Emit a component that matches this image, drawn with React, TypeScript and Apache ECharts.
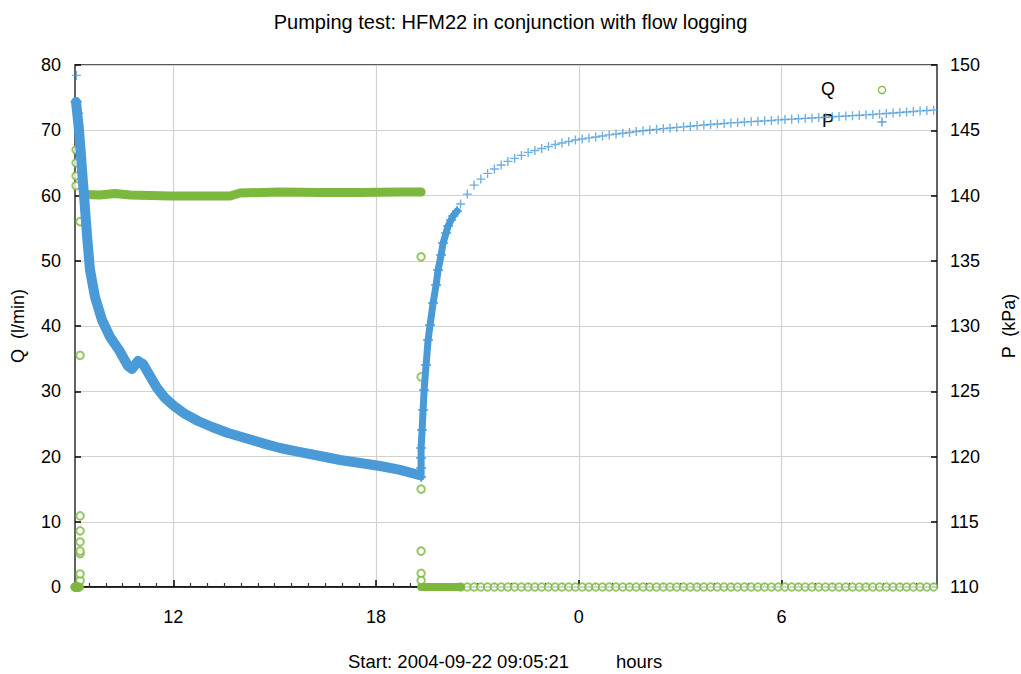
import React, { useEffect, useRef } from "react";
import * as echarts from "echarts";

const FONT = '"Liberation Sans", Arial, Helvetica, sans-serif';
const BLUE = "#4a9ad8";
const GREEN = "#7cb83e";

// Time axis in clock hours (values beyond 24 are the next day)
const AXIS_MIN = 9.089; // 2004-09-22 09:05:21
const AXIS_MAX = 34.6;
const majorTicks = [12, 18, 24, 30];

// ---- P (kPa), right axis ----
const pStartTime = [9.089, 9.1, 9.11, 9.12, 9.14, 9.16, 9.13, 9.2, 9.2, 9.2];
const pStartValue = [147.2, 147.2, 147.15, 147.2, 147.2, 147.2, 149.2, 146.3, 145.8, 145.4];

const pDrawdownTime = [
  9.119, 9.207, 9.267, 9.296, 9.355, 9.444, 9.533, 9.681, 9.888, 10.125, 10.392,
  10.658, 10.776, 10.954, 11.102, 11.309, 11.516, 11.753, 12.02, 12.345, 12.73,
  13.145, 13.618, 14.122, 14.625, 15.158, 15.75, 16.342, 16.934, 17.526, 18.118,
  18.71, 19.273,
];
const pDrawdownValue = [
  147.16, 145.02, 143.1, 141.95, 140.04, 136.97, 134.29, 132.22, 130.46, 129.16,
  128.16, 126.93, 126.7, 127.32, 127.09, 126.17, 125.25, 124.48, 123.87, 123.26,
  122.72, 122.26, 121.8, 121.42, 121.03, 120.65, 120.34, 120.04, 119.73, 119.5,
  119.27, 118.97, 118.58,
];

const pRecDenseTime = [
  19.332, 19.332, 19.332, 19.332, 19.361, 19.391, 19.421, 19.48, 19.539, 19.598,
  19.687, 19.776, 19.835, 19.924, 19.983, 20.072, 20.131, 20.22, 20.279, 20.397,
];
const pRecDenseValue = [
  118.43, 119.12, 119.89, 120.65, 122.03, 123.56, 125.1, 127.01, 128.93, 130.08,
  131.76, 133.14, 134.29, 135.44, 136.36, 137.13, 137.66, 138.12, 138.43, 138.81,
];

const recoveryTime = [
  20.5, 20.7, 20.9, 21.1, 21.3, 21.5, 21.7, 21.9, 22.1, 22.3, 22.5, 22.7, 22.9,
  23.1, 23.3, 23.5, 23.7, 23.9, 24.1, 24.3, 24.5, 24.7, 24.9, 25.1, 25.3, 25.5,
  25.7, 25.9, 26.1, 26.3, 26.5, 26.7, 26.9, 27.1, 27.3, 27.5, 27.7, 27.9, 28.1,
  28.3, 28.5, 28.7, 28.9, 29.1, 29.3, 29.5, 29.7, 29.9, 30.1, 30.3, 30.5, 30.7,
  30.9, 31.1, 31.3, 31.5, 31.7, 31.9, 32.1, 32.3, 32.5, 32.7, 32.9, 33.1, 33.3,
  33.5, 33.7, 33.9, 34.1, 34.3, 34.5,
];
const pRecovery = [
  139.35, 140.11, 140.8, 141.26, 141.69, 142.03, 142.34, 142.61, 142.84, 143.07,
  143.3, 143.45, 143.6, 143.75, 143.91, 144.02, 144.14, 144.25, 144.33, 144.41,
  144.48, 144.56, 144.64, 144.71, 144.77, 144.83, 144.9, 144.96, 145.02, 145.07,
  145.13, 145.17, 145.22, 145.26, 145.31, 145.36, 145.4, 145.44, 145.48, 145.52,
  145.56, 145.59, 145.63, 145.66, 145.69, 145.72, 145.75, 145.79, 145.82, 145.85,
  145.88, 145.91, 145.94, 145.97, 146.0, 146.03, 146.06, 146.09, 146.12, 146.15,
  146.18, 146.21, 146.25, 146.28, 146.32, 146.36, 146.4, 146.44, 146.48, 146.51,
  146.54,
];

// ---- Q (l/min), left axis ----
const qStartTime = [
  9.089, 9.11, 9.13, 9.16, 9.19, 9.22, 9.24, 9.24, 9.24, 9.24, 9.24, 9.24, 9.24,
  9.24, 9.24, 9.12, 9.12, 9.12, 9.12,
];
const qStartValue = [
  0, 0, 0, 0, 0, 0, 1.0, 2.0, 5.1, 5.5, 6.9, 8.6, 10.9, 35.5, 56.0, 61.5, 63.0,
  65.0, 67.0,
];

const qPumpTime = [
  9.355, 9.829, 10.273, 10.717, 11.901, 12.789, 13.677, 13.974, 15.158, 16.342,
  17.526, 18.71, 19.332,
];
const qPumpValue = [
  60.15, 60.08, 60.3, 60.08, 59.92, 59.92, 59.92, 60.38, 60.54, 60.46, 60.46,
  60.54, 60.54,
];

const qStopTime = [19.332, 19.332, 19.332, 19.332, 19.332, 19.332];
const qStopValue = [50.6, 32.2, 15.0, 5.5, 2.1, 1.0];

const qZeroDenseTime = [19.332, 20.516];
const qZeroDenseValue = [0, 0];

const qRecovery = [
  0, 0, 0, 0, 0, 0, 0, 0, 0, 0, 0, 0, 0, 0, 0, 0, 0, 0, 0, 0, 0, 0, 0, 0, 0, 0,
  0, 0, 0, 0, 0, 0, 0, 0, 0, 0, 0, 0, 0, 0, 0, 0, 0, 0, 0, 0, 0, 0, 0, 0, 0, 0,
  0, 0, 0, 0, 0, 0, 0, 0, 0, 0, 0, 0, 0, 0, 0, 0, 0, 0, 0,
];

const pairs = (xs: number[], ys: number[]) => xs.map((x, i) => [x, ys[i]]);

const PLUS = "path://M3.4,0H4.6V3.4H8V4.6H4.6V8H3.4V4.6H0V3.4H3.4Z";

export default function App() {
  const ref = useRef<HTMLDivElement>(null);

  useEffect(() => {
    if (!ref.current) return;
    const chart = echarts.init(ref.current, undefined, { renderer: "svg" });

    const minorTicks: number[] = [];
    for (let h = 9.5; h < AXIS_MAX; h += 0.5) {
      if (majorTicks.indexOf(h) < 0) minorTicks.push(h);
    }

    const labelStyle = { fontFamily: FONT, fontSize: 18, color: "#000" };

    const option: any = {
      animation: false,
      backgroundColor: "#fff",
      title: {
        text: "Pumping test: HFM22 in conjunction with flow logging",
        left: "center",
        top: 7,
        textStyle: { fontFamily: FONT, fontSize: 20, fontWeight: "normal", color: "#000" },
      },
      grid: {
        left: 75,
        right: 84,
        top: 65,
        bottom: 87,
        show: true,
        borderColor: "#222",
        borderWidth: 1.5,
        backgroundColor: "transparent",
        containLabel: false,
        outerBoundsMode: "none",
      },
      xAxis: [
        {
          type: "value",
          min: AXIS_MIN,
          max: AXIS_MAX,
          position: "bottom",
          axisLine: { show: true, onZero: false, lineStyle: { color: "#000", width: 1.5 } },
          axisTick: {
            show: true,
            inside: true,
            length: 7,
            customValues: majorTicks,
            lineStyle: { color: "#000", width: 1.5 },
          },
          axisLabel: {
            customValues: majorTicks,
            formatter: (v: number) => String(Math.round(v) % 24),
            margin: 21,
            ...labelStyle,
          },
          splitLine: { show: true, lineStyle: { color: "#d2d2d2", width: 1.2 } },
        },
        {
          type: "value",
          min: AXIS_MIN,
          max: AXIS_MAX,
          position: "bottom",
          axisLine: { show: false, onZero: false },
          axisTick: {
            show: true,
            inside: true,
            length: 4,
            customValues: minorTicks,
            lineStyle: { color: "#333", width: 1.2 },
          },
          axisLabel: { show: false },
          splitLine: { show: false },
        },
      ],
      yAxis: [
        {
          type: "value",
          min: 0,
          max: 80,
          interval: 10,
          position: "left",
          name: "Q  (l/min)",
          nameLocation: "middle",
          nameGap: 48,
          nameTextStyle: { ...labelStyle },
          axisLine: { show: true, lineStyle: { color: "#666", width: 1.5 } },
          axisTick: { show: true, inside: true, length: 6, lineStyle: { color: "#000", width: 1.5 } },
          axisLabel: { margin: 14, ...labelStyle },
          splitLine: { show: true, lineStyle: { color: "#d2d2d2", width: 1.2 } },
        },
        {
          type: "value",
          min: 110,
          max: 150,
          interval: 5,
          position: "right",
          name: "P  (kPa)",
          nameLocation: "middle",
          nameGap: 63,
          nameTextStyle: { ...labelStyle },
          axisLine: { show: true, lineStyle: { color: "#666", width: 1.5 } },
          axisTick: { show: true, inside: true, length: 6, lineStyle: { color: "#000", width: 1.5 } },
          axisLabel: { margin: 13, ...labelStyle },
          splitLine: { show: false },
        },
      ],
      series: [
        {
          name: "Q",
          type: "line",
          data: pairs(qPumpTime, qPumpValue),
          showSymbol: false,
          lineStyle: { color: GREEN, width: 9, cap: "round", join: "round" },
          itemStyle: { color: GREEN },
          clip: false,
        },
        {
          name: "Q",
          type: "line",
          data: pairs(qZeroDenseTime, qZeroDenseValue),
          showSymbol: false,
          lineStyle: { color: GREEN, width: 8, cap: "round" },
          itemStyle: { color: GREEN },
          clip: false,
        },
        {
          name: "Q",
          type: "scatter",
          data: pairs(qStartTime, qStartValue)
            .concat(pairs(qStopTime, qStopValue))
            .concat(pairs(recoveryTime, qRecovery)),
          symbol: "emptyCircle",
          symbolSize: 7.5,
          itemStyle: { color: GREEN, borderColor: GREEN, borderWidth: 1.2 },
          clip: false,
        },
        {
          name: "Q",
          type: "scatter",
          data: pairs([9.089, 9.13, 9.17, 9.2], [0, 0, 0, 0]),
          symbol: "circle",
          symbolSize: 9,
          itemStyle: { color: GREEN },
          clip: false,
        },
        {
          name: "P",
          type: "line",
          yAxisIndex: 1,
          data: pairs(pDrawdownTime, pDrawdownValue),
          showSymbol: false,
          lineStyle: { color: BLUE, width: 10, cap: "round", join: "round" },
          itemStyle: { color: BLUE },
        },
        {
          name: "P",
          type: "line",
          yAxisIndex: 1,
          data: pairs(pRecDenseTime, pRecDenseValue),
          showSymbol: true,
          symbol: PLUS,
          symbolSize: 10,
          lineStyle: { color: BLUE, width: 7, cap: "round", join: "round" },
          itemStyle: { color: BLUE },
        },
        {
          name: "P",
          type: "scatter",
          yAxisIndex: 1,
          data: pairs(pStartTime, pStartValue).concat(pairs(recoveryTime, pRecovery)),
          symbol: PLUS,
          symbolSize: 9,
          itemStyle: { color: BLUE },
          clip: false,
        },
      ],
      graphic: [
        {
          type: "text",
          left: 821,
          top: 80,
          style: { text: "Q", fontFamily: FONT, fontSize: 18, fill: "#000" },
        },
        {
          type: "circle",
          shape: { cx: 882, cy: 90, r: 3.6 },
          style: { fill: "none", stroke: GREEN, lineWidth: 1.2 },
        },
        {
          type: "text",
          left: 822,
          top: 112,
          style: { text: "P", fontFamily: FONT, fontSize: 18, fill: "#000" },
        },
        {
          type: "line",
          shape: { x1: 877.5, y1: 122, x2: 886.5, y2: 122 },
          style: { stroke: BLUE, lineWidth: 1.3 },
        },
        {
          type: "line",
          shape: { x1: 882, y1: 117.5, x2: 882, y2: 126.5 },
          style: { stroke: BLUE, lineWidth: 1.3 },
        },
        {
          type: "text",
          left: 348,
          top: 652,
          style: { text: "Start: 2004-09-22 09:05:21", fontFamily: FONT, fontSize: 18.5, fill: "#000" },
        },
        {
          type: "text",
          left: 616,
          top: 652,
          style: { text: "hours", fontFamily: FONT, fontSize: 18.5, fill: "#000" },
        },
      ],
    };

    chart.setOption(option);
    return () => chart.dispose();
  }, []);

  return (
    <div
      ref={ref}
      style={{ position: "absolute", left: 0, top: 0, width: 1021, height: 674 }}
    />
  );
}
